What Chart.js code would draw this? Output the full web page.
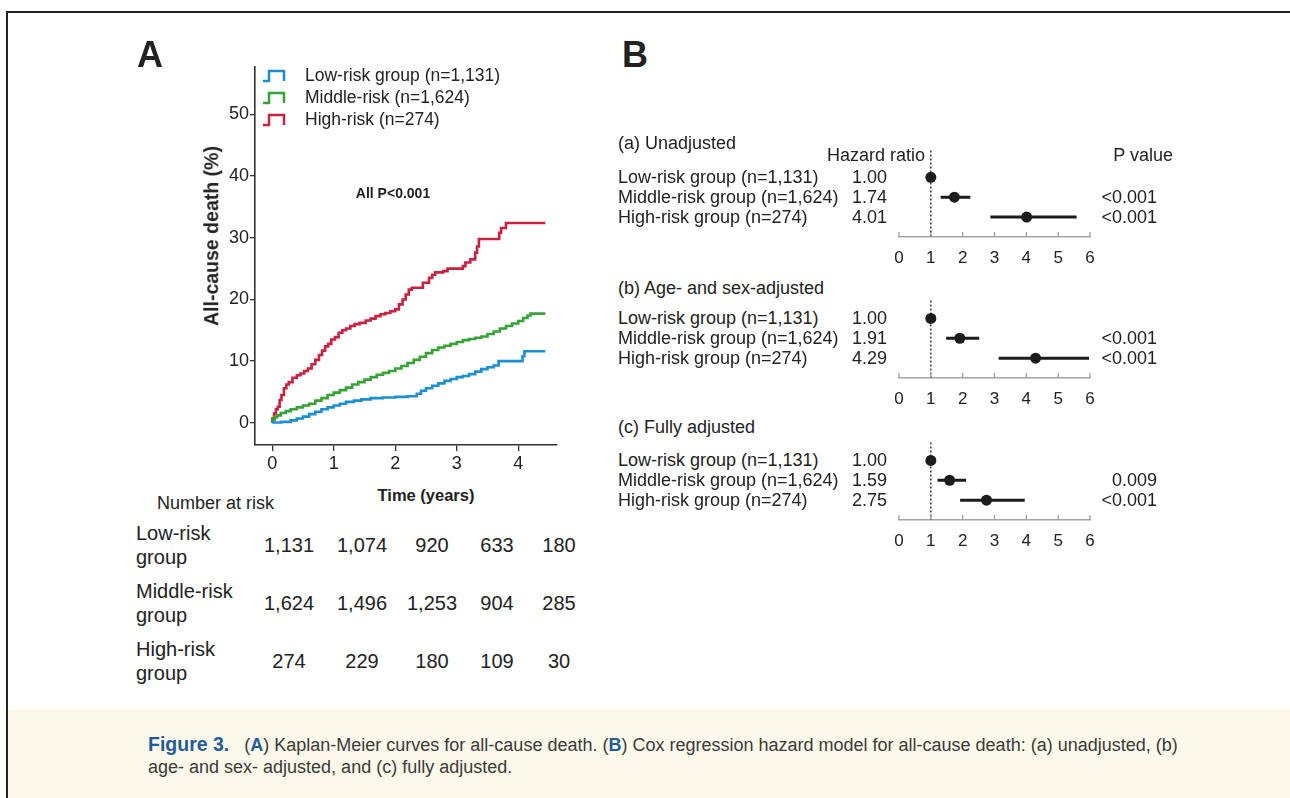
<!DOCTYPE html>
<html lang="en">
<head>
<meta charset="UTF-8">
<title>Figure 3</title>
<script src="https://cdn.jsdelivr.net/npm/chart.js@4.4.1/dist/chart.umd.min.js"></script>
<style>
    body {
        margin: 0;
        width: 1290px;
        height: 798px;
        position: relative;
        overflow: hidden;
        background: #fff;
        font-family: Arial, "Liberation Sans", sans-serif;
        color: #222;
    }
    canvas, .t { position: absolute; }
    .t { white-space: nowrap; line-height: 1; }
    .frame-top { position: absolute; left: 6px; top: 11px; width: 1284px; height: 2px; background: #222; }
    .frame-left { position: absolute; left: 6px; top: 11px; width: 2px; height: 787px; background: #222; }
    .caption-bg { position: absolute; left: 8px; top: 710px; right: 0; bottom: 0; background: #fcf9ea; }
    .blue { color: #1f5c99; font-weight: bold; }
    .narrow { font-family: "Liberation Sans Narrow", "Arial Narrow", Arial, sans-serif; }
</style>
</head>
<body>
<div class="frame-top"></div>
<div class="frame-left"></div>
<div class="caption-bg"></div>

<canvas id="km" width="420" height="430" style="left:160px;top:55px"></canvas>
<canvas id="forestA" width="230" height="127"></canvas>
<canvas id="forestB" width="230" height="123"></canvas>
<canvas id="forestC" width="230" height="123"></canvas>

<script>
// ---- Kaplan-Meier (cumulative all-cause death, %) ----
const lowTime  = [0, 0.15, 0.30, 0.40, 0.50, 0.60, 0.70, 0.80, 0.90, 1.00, 1.10, 1.20, 1.33, 1.45, 1.60, 1.80, 2.00, 2.20, 2.35, 2.42, 2.50, 2.60, 2.70, 2.80, 2.90, 3.00, 3.10, 3.20, 3.30, 3.40, 3.50, 3.60, 3.68, 4.07, 4.10, 4.17, 4.44];
const lowPct   = [0, 0.05, 0.15, 0.4, 0.7, 1.0, 1.4, 1.8, 2.2, 2.5, 2.8, 3.1, 3.4, 3.6, 3.8, 4.0, 4.1, 4.2, 4.3, 4.7, 5.2, 5.6, 6.0, 6.4, 6.8, 7.1, 7.4, 7.6, 7.9, 8.3, 8.7, 9.0, 9.3, 10.0, 10.8, 11.6, 11.6];

const midTime  = [0, 0.04, 0.08, 0.14, 0.22, 0.30, 0.40, 0.50, 0.60, 0.70, 0.80, 0.90, 1.00, 1.10, 1.20, 1.30, 1.40, 1.50, 1.60, 1.70, 1.80, 1.90, 2.00, 2.10, 2.20, 2.30, 2.40, 2.50, 2.60, 2.70, 2.80, 2.90, 3.00, 3.10, 3.20, 3.30, 3.40, 3.50, 3.60, 3.70, 3.80, 3.90, 4.00, 4.08, 4.15, 4.20, 4.24, 4.44];
const midPct   = [0, 0.5, 0.9, 1.2, 1.6, 1.9, 2.2, 2.5, 2.8, 3.1, 3.6, 4.0, 4.5, 4.9, 5.3, 5.7, 6.2, 6.6, 7.0, 7.4, 7.8, 8.1, 8.4, 8.8, 9.2, 9.7, 10.2, 10.7, 11.3, 11.8, 12.2, 12.5, 12.8, 13.1, 13.4, 13.6, 13.8, 14.0, 14.4, 14.8, 15.3, 15.7, 16.1, 16.5, 17.0, 17.4, 17.7, 17.7];

const highTime = [0, 0.03, 0.06, 0.09, 0.12, 0.15, 0.19, 0.23, 0.27, 0.33, 0.40, 0.46, 0.52, 0.58, 0.64, 0.70, 0.76, 0.81, 0.86, 0.91, 0.96, 1.02, 1.08, 1.14, 1.20, 1.27, 1.34, 1.42, 1.52, 1.60, 1.68, 1.76, 1.84, 1.92, 2.00, 2.06, 2.12, 2.17, 2.22, 2.27, 2.45, 2.55, 2.60, 2.65, 2.78, 2.85, 3.10, 3.14, 3.22, 3.30, 3.33, 3.36, 3.69, 3.72, 3.80, 3.83, 4.44];
const highPct  = [0, 0.7, 1.5, 2.2, 2.6, 3.7, 4.5, 5.6, 6.2, 6.6, 7.3, 7.7, 8.0, 8.4, 8.8, 9.5, 10.2, 11.0, 11.7, 12.4, 12.8, 13.5, 13.9, 14.6, 15.0, 15.3, 15.7, 16.0, 16.2, 16.6, 16.9, 17.3, 17.6, 17.8, 18.1, 18.4, 19.2, 20.0, 20.8, 21.6, 21.9, 22.7, 23.5, 24.0, 24.4, 24.6, 25.0, 25.4, 26.0, 26.5, 27.6, 28.6, 29.8, 30.8, 31.6, 32.4, 32.4];

const kmLabels = ['Low-risk group (n=1,131)', 'Middle-risk (n=1,624)', 'High-risk (n=274)'];
const kmColors = ['#1b8fd2', '#36a336', '#c9213f'];
const timeTicks = [0, 1, 2, 3, 4];
const pctTicks = [0, 10, 20, 30, 40, 50];

// ---- Number at risk ----
const riskGroups = [['Low-risk', 'group'], ['Middle-risk', 'group'], ['High-risk', 'group']];
const riskLow  = [1131, 1074, 920, 633, 180];
const riskMid  = [1624, 1496, 1253, 904, 285];
const riskHigh = [274, 229, 180, 109, 30];

// ---- Cox hazard ratios ----
const groupLabels = ['Low-risk group (n=1,131)', 'Middle-risk group (n=1,624)', 'High-risk group (n=274)'];
const hrUnadj  = [1.00, 1.74, 4.01];
const loUnadj  = [null, 1.31, 2.87];
const hiUnadj  = [null, 2.24, 5.58];
const pUnadj   = ['', '<0.001', '<0.001'];
const hrAgeSex = [1.00, 1.91, 4.29];
const loAgeSex = [null, 1.48, 3.13];
const hiAgeSex = [null, 2.52, 5.97];
const pAgeSex  = ['', '<0.001', '<0.001'];
const hrFull   = [1.00, 1.59, 2.75];
const loFull   = [null, 1.21, 1.92];
const hiFull   = [null, 2.11, 3.95];
const pFull    = ['', '0.009', '<0.001'];
const hrTicks  = [0, 1, 2, 3, 4, 5, 6];
const hrRef = 1;

// text helper: align 'l' | 'c' | 'r', y is the vertical centre
function put(html, x, y, size, align, extra) {
    const d = document.createElement('div');
    d.className = 't';
    d.innerHTML = html;
    d.style.left = x + 'px';
    d.style.top = y + 'px';
    d.style.fontSize = size + 'px';
    const tx = align === 'c' ? '-50%' : align === 'r' ? '-100%' : '0';
    d.style.transform = `translate(${tx}, -50%)`;
    if (extra) Object.assign(d.style, extra);
    document.body.appendChild(d);
    return d;
}

// ---------- Panel A ----------
const toXY = (ts, ys) => ts.map((t, i) => ({ x: t, y: ys[i] }));
const narrowFamily = '"Liberation Sans Narrow", "Arial Narrow", Arial, sans-serif';

new Chart(document.getElementById('km'), {
    type: 'line',
    data: {
        datasets: [
            { label: kmLabels[0], data: toXY(lowTime, lowPct), borderColor: kmColors[0] },
            { label: kmLabels[1], data: toXY(midTime, midPct), borderColor: kmColors[1] },
            { label: kmLabels[2], data: toXY(highTime, highPct), borderColor: kmColors[2] }
        ].map(d => Object.assign(d, { stepped: 'after', borderWidth: 2.6, pointRadius: 0, fill: false }))
    },
    options: {
        responsive: false,
        animation: false,
        layout: { padding: { left: 50, right: 23, top: 12, bottom: 10 } },
        plugins: { legend: { display: false }, tooltip: { enabled: false } },
        scales: {
            x: {
                type: 'linear', min: -0.28, max: 4.63,
                afterBuildTicks: s => { s.ticks = timeTicks.map(v => ({ value: v })); },
                afterFit: s => { s.height = 30; },
                grid: { drawOnChartArea: false, color: '#333', tickLength: 6, lineWidth: 1.3 },
                border: { color: '#333', width: 1.6 },
                ticks: { font: { family: narrowFamily, size: 18 }, color: '#222', padding: 2 }
            },
            y: {
                type: 'linear', min: -3.6, max: 57.7,
                afterBuildTicks: s => { s.ticks = pctTicks.map(v => ({ value: v })); },
                afterFit: s => { s.width = 45; },
                grid: { drawOnChartArea: false, color: '#333', tickLength: 5, lineWidth: 1.3 },
                border: { color: '#333', width: 1.6 },
                ticks: { font: { family: narrowFamily, size: 18 }, color: '#222', padding: 1 }
            }
        }
    }
});

put('A', 137, 55, 36, 'l', { fontWeight: 'bold' });
put('All-cause death (%)', 212, 236, 19.5, 'c', { fontWeight: 'bold', transform: 'translate(-50%, -50%) rotate(-90deg)' });
put('Time (years)', 426, 495, 16.5, 'c', { fontWeight: 'bold' });
put('All P&lt;0.001', 393, 193, 14, 'c', { fontWeight: 'bold' });

// legend with step glyphs
const legendY = [76, 98, 120];
kmLabels.forEach((lab, i) => {
    put(`<svg width="24" height="14"><polyline points="1,12 7,12 7,2 22,2 22,12" fill="none" stroke="${kmColors[i]}" stroke-width="2.5"/></svg>`,
        262, legendY[i], 14, 'l', { lineHeight: '0' });
    put(lab, 305, legendY[i], 17.5, 'l');
});

// number at risk table
put('Number at risk', 157, 503, 18, 'l');
const riskCols = [289, 362, 432, 497, 559];
const riskRowY = [545, 603, 661];
[riskLow, riskMid, riskHigh].forEach((row, r) => {
    put(riskGroups[r][0], 136, riskRowY[r] - 12, 20, 'l');
    put(riskGroups[r][1], 136, riskRowY[r] + 12, 20, 'l');
    row.forEach((n, c) => put(n.toLocaleString('en-US'), riskCols[c], riskRowY[r], 20, 'c'));
});

// ---------- Panel B ----------
put('B', 622, 55, 36, 'l', { fontWeight: 'bold' });
put('Hazard ratio', 925, 155, 18, 'r');
put('P value', 1173, 155, 18, 'r');

const forestDeco = {
    id: 'forestDeco',
    beforeDatasetsDraw(chart) {
        const { ctx, chartArea, scales: { x } } = chart;
        const px = x.getPixelForValue(hrRef);
        ctx.save();
        ctx.strokeStyle = '#222';
        ctx.lineWidth = 1.3;
        ctx.setLineDash([2, 2]);
        ctx.beginPath();
        ctx.moveTo(px, chartArea.top);
        ctx.lineTo(px, chartArea.bottom);
        ctx.stroke();
        ctx.setLineDash([]);
        ctx.strokeStyle = '#999';
        ctx.lineWidth = 1.2;
        ctx.beginPath();
        hrTicks.forEach(v => {
            const p = x.getPixelForValue(v);
            ctx.moveTo(p, chartArea.bottom);
            ctx.lineTo(p, chartArea.bottom - 5);
        });
        ctx.stroke();
        ctx.restore();
    }
};

const panels = [
    { id: 'forestA', title: '(a) Unadjusted', titleY: 143, top: 150, bottom: 237, yMin: -1.35, hr: hrUnadj, lo: loUnadj, hi: hiUnadj, p: pUnadj },
    { id: 'forestB', title: '(b) Age- and sex-adjusted', titleY: 288, top: 300, bottom: 378, yMin: -0.9, hr: hrAgeSex, lo: loAgeSex, hi: hiAgeSex, p: pAgeSex },
    { id: 'forestC', title: '(c) Fully adjusted', titleY: 427, top: 442, bottom: 520, yMin: -0.9, hr: hrFull, lo: loFull, hi: hiFull, p: pFull }
];

panels.forEach(pn => {
    const cv = document.getElementById(pn.id);
    cv.height = pn.bottom - pn.top + 45;
    cv.style.left = '880px';
    cv.style.top = (pn.top - 5) + 'px';

    const datasets = [{
        type: 'scatter',
        data: pn.hr.map((v, i) => ({ x: v, y: i })),
        pointRadius: 5.5, backgroundColor: '#1c1c1c', borderWidth: 0, order: 0
    }];
    pn.hr.forEach((v, i) => {
        if (pn.lo[i] === null) return;
        datasets.push({
            type: 'line',
            data: [{ x: pn.lo[i], y: i }, { x: pn.hi[i], y: i }],
            borderColor: '#1c1c1c', borderWidth: 3, pointRadius: 0, order: 1
        });
    });

    const chart = new Chart(cv, {
        type: 'scatter',
        data: { datasets },
        options: {
            responsive: false,
            animation: false,
            layout: { padding: { left: 19, right: 20, top: 5, bottom: 10 } },
            plugins: { legend: { display: false }, tooltip: { enabled: false } },
            scales: {
                x: {
                    type: 'linear', min: 0, max: 6,
                    afterBuildTicks: s => { s.ticks = hrTicks.map(v => ({ value: v })); },
                    afterFit: s => { s.height = 30; },
                    grid: { display: false, drawTicks: false },
                    border: { display: true, color: '#a5a5a5', width: 1.5 },
                    ticks: { font: { family: narrowFamily, size: 17 }, color: '#222', padding: 11 }
                },
                y: { type: 'linear', reverse: true, min: pn.yMin, max: 3.0, display: false }
            }
        },
        plugins: [forestDeco]
    });

    const top = pn.top - 5;
    put(pn.title, 618, pn.titleY, 18, 'l');
    groupLabels.forEach((lab, i) => {
        const y = top + chart.scales.y.getPixelForValue(i);
        put(lab, 618, y, 18, 'l');
        put(pn.hr[i].toFixed(2), 887, y, 18, 'r');
        if (pn.p[i]) put(pn.p[i], 1157, y, 18, 'r');
    });
});

// ---------- caption ----------
put('<span class="blue narrow" style="font-size:19.5px">Figure 3.</span>&nbsp;&nbsp; (<span class="blue">A</span>) Kaplan-Meier curves for all-cause death. (<span class="blue">B</span>) Cox regression hazard model for all-cause death: (a) unadjusted, (b)',
    148, 745, 18, 'l', { color: '#3a3a3a' });
put('age- and sex- adjusted, and (c) fully adjusted.', 148, 767, 18, 'l', { color: '#3a3a3a' });
</script>
</body>
</html>
